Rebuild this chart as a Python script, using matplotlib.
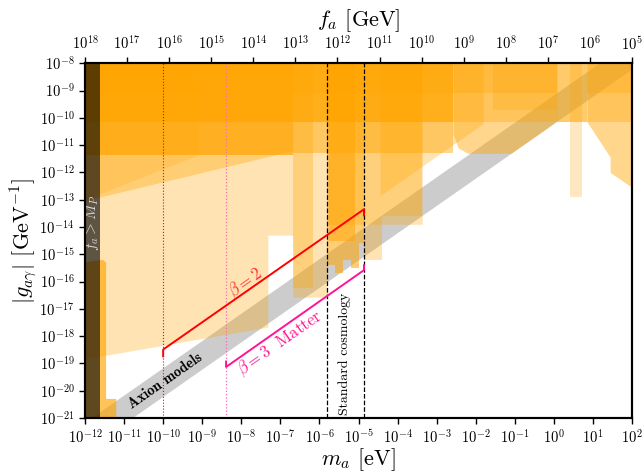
import numpy as np
import matplotlib
matplotlib.use("Agg")
import matplotlib.pyplot as plt
from matplotlib.ticker import FixedLocator, NullLocator, LogFormatterSciNotation

plt.rcParams.update({
    "font.family": "serif",
    "font.serif": ["cmr10"],
    "mathtext.fontset": "cm",
    "axes.formatter.use_mathtext": True,
})

# axis limits
mass_lim = (1e-12, 1e2)        # m_a [eV]
coupling_lim = (1e-21, 1e-8)   # |g_a gamma| [GeV^-1]
fa_lim = (1e18, 1e5)           # f_a [GeV]
planck_mass = 2.4e18           # GeV
fa_times_ma = 5.7e6            # f_a * m_a  [GeV eV]

# exclusion regions: log10 of the lower boundary (mass [eV], coupling [GeV^-1]),
# each filled up to the top of the plot
xray_logm = [-12, 0.08, 0.08, 0.85, 0.85, 2]
xray_logg = [-9.1, -9.1, -8, -8, -9.1, -9.1]
stars_logm = [-12, 2]
stars_logg = [-10.15, -10.15]
helio_logm = [-12, -2.58]
helio_logg = [-10.15, -10.15]
polar_logm = [-12, -6.68, -6.68]
polar_logg = [-11.36, -11.36, -8]
polar2_logm = [-6.68, -2.58, -2.58]
polar2_logg = [-11.3, -11.3, -8]
spectra_logm = [-12, -11.62, -9.06, -6.68, -6.68]
spectra_logg = [-13.05, -12.9, -12.02, -11.2, -8]
spectra2_logm = [-12, -11.28, -9.23, -9.1, -9.1]
spectra2_logg = [-13.0, -12.59, -11.43, -11.36, -8]
cosmo_logm = [-12, -11.62, -9.06, -7.32, -7.32, -6.68, -6.68, -5.8, -5.8, -3.37, -3.37]
cosmo_logg = [-18.8, -18.74, -18.1, -17.67, -14.3, -14.3, -16.57, -16.57, -13.9, -13.9, -8]
strip_logm = [-6.68, -6.68, -6.16, -6.16]
strip_logg = [-8, -16.24, -16.24, -8]
halo_logm = [-5.8, -5.8, -5.6, -5.6, -5.4, -5.4, -5.2, -5.2, -5.0, -5.0, -4.86, -4.86]
halo_logg = [-8, -15.4, -15.4, -15.7, -15.7, -15.2, -15.2, -15.5, -15.5, -14.6, -14.6, -8]
halo2_logm = [-5.75, -5.75, -5.1, -5.1]
halo2_logg = [-8, -14.5, -14.5, -8]
cavity_logm = [-4.86, -4.86, -4.4, -4.4, -3.37, -3.37]
cavity_logg = [-8, -15.2, -15.2, -13.6, -13.6, -8]
diag_logm = [-4.45, -4.45, -1.81]
diag_logg = [-8, -12.85, -10.21]
mid_logm = [-2.58, -2.58, -2.45, -2.2, -1.1, -0.2, 0.08, 0.08]
mid_logg = [-8, -10.6, -11.1, -11.3, -11.3, -10.4, -10.1, -8]
wavy_logm = [-1.55, 0.08, 0.08]
wavy_logg = [-9.7, -9.7, -8]
optical_logm = [0.08, 0.08, 0.85, 0.85]
optical_logg = [-8, -10.15, -10.15, -8]
optical2_logm = [0.41, 0.41, 0.72, 0.72]
optical2_logg = [-8, -12.9, -12.9, -8]
xtel_logm = [0.85, 1.44, 1.44, 2]
xtel_logg = [-10.15, -11.44, -12.0, -12.55]
# closed patch at low mass (log10 mass, log10 coupling)
lowm_logm = [-12, -12, -11.55, -11.46, -11.46, -11.2, -11.2]
lowm_logg = [-21, -15.3, -15.2, -15.3, -20.3, -20.3, -21]

regions = [
    (xray_logm, xray_logg, 0.30),
    (stars_logm, stars_logg, 0.35),
    (helio_logm, helio_logg, 0.55),
    (polar_logm, polar_logg, 0.70),
    (polar2_logm, polar2_logg, 0.45),
    (spectra_logm, spectra_logg, 0.35),
    (spectra2_logm, spectra2_logg, 0.20),
    (cosmo_logm, cosmo_logg, 0.30),
    (strip_logm, strip_logg, 0.30),
    (halo_logm, halo_logg, 0.55),
    (halo2_logm, halo2_logg, 0.50),
    (cavity_logm, cavity_logg, 0.30),
    (diag_logm, diag_logg, 0.30),
    (mid_logm, mid_logg, 0.45),
    (wavy_logm, wavy_logg, 0.25),
    (optical_logm, optical_logg, 0.35),
    (optical2_logm, optical2_logg, 0.25),
    (xtel_logm, xtel_logg, 0.45),
]

# QCD axion model band: log10 g = log10 m + offset
band_logm = [-12, 2]
band_offsets = (-10.2, -9.15)

# cosmology segments
beta2_logm = [-10, -10, -4.86, -4.86]
beta2_logg = [-18.74, -18.49, -13.35, -13.57]
beta3_logm = [-8.39, -8.39, -4.86, -4.86]
beta3_logg = [-18.93, -19.13, -15.58, -15.40]
std_cosmo_logm = [-5.80, -4.86]

fig = plt.figure(figsize=(6.44, 4.72), dpi=100)
ax = fig.add_axes([0.132, 0.1144, 0.8494, 0.7515])
ax.set_xscale("log")
ax.set_yscale("log")
ax.set_xlim(*mass_lim)
ax.set_ylim(*coupling_lim)

orange = "#ffa500"
for lm, lg, a in regions:
    m = 10.0 ** np.asarray(lm)
    g = 10.0 ** np.asarray(lg)
    ax.fill_between(m, g, coupling_lim[1], color=orange, alpha=a, lw=0, zorder=2)
ax.fill(10.0 ** np.asarray(lowm_logm), 10.0 ** np.asarray(lowm_logg),
        color=orange, alpha=0.65, lw=0, zorder=2)

bm = 10.0 ** np.asarray(band_logm, dtype=float)
ax.fill_between(bm, bm * 10 ** band_offsets[0], bm * 10 ** band_offsets[1],
                color="#cccccc", lw=0, zorder=1)

# f_a > M_P
m_planck = fa_times_ma / planck_mass
ax.axvspan(mass_lim[0], m_planck, color="black", alpha=0.63, lw=0, zorder=4)
ax.text(10 ** (-11.81), 10 ** (-13.84), r"$f_a > M_P$", rotation=90, color="#d8d8d8",
        fontsize=11, ha="center", va="center", rotation_mode="anchor", zorder=5)

# reheating lines
ax.axvline(10 ** beta2_logm[0], color="red", ls=":", lw=0.8, zorder=3)
ax.axvline(10 ** beta3_logm[0], color="hotpink", ls=":", lw=0.9, zorder=3)
for x in std_cosmo_logm:
    ax.axvline(10 ** x, color="black", ls="--", lw=0.9, zorder=3)

ax.plot(10.0 ** np.asarray(beta2_logm), 10.0 ** np.asarray(beta2_logg), color="red", lw=1.4, zorder=3)
ax.plot(10.0 ** np.asarray(beta3_logm), 10.0 ** np.asarray(beta3_logg), color="deeppink", lw=1.4, zorder=3)

ang = 34.9
ax.text(10 ** (-7.9), 10 ** (-16.06), r"$\beta = 2$", color="#ff3030", rotation=ang, fontsize=12,
        ha="center", va="center", rotation_mode="anchor", zorder=5)
ax.text(10 ** (-7.0), 10 ** (-18.27), r"$\beta = 3$  Matter", color="deeppink", rotation=ang, fontsize=12,
        ha="center", va="center", rotation_mode="anchor", zorder=5)
ax.text(10 ** (-9.95), 10 ** (-19.63), "Axion models", color="black", rotation=ang, fontsize=10.5,
        family="cmb10", ha="center", va="center", rotation_mode="anchor", zorder=5)
ax.text(10 ** (-5.35), 10 ** (-18.66), "Standard cosmology", color="black", rotation=90, fontsize=10,
        ha="center", va="center", rotation_mode="anchor", zorder=5)

ax.xaxis.set_major_locator(FixedLocator(10.0 ** np.arange(-12, 3)))
ax.xaxis.set_minor_locator(NullLocator())
ax.yaxis.set_major_locator(FixedLocator(10.0 ** np.arange(-21, -7)))
ax.yaxis.set_minor_locator(NullLocator())
ax.xaxis.set_major_formatter(LogFormatterSciNotation())
ax.yaxis.set_major_formatter(LogFormatterSciNotation())
ax.tick_params(which="major", direction="out", length=4, width=1, labelsize=10.5, top=False, right=False)
ax.set_xlabel(r"$m_a$ [eV]", fontsize=16, labelpad=0)
ax.set_ylabel(r"$|g_{a\gamma}|$ [GeV$^{-1}$]", fontsize=16, labelpad=0)

ax2 = ax.twiny()
ax2.set_xscale("log")
ax2.set_xlim(*fa_lim)
ax2.xaxis.set_major_locator(FixedLocator(10.0 ** np.arange(5, 19)))
ax2.xaxis.set_minor_locator(NullLocator())
ax2.xaxis.set_major_formatter(LogFormatterSciNotation())
ax2.tick_params(which="major", direction="out", length=4, width=1, labelsize=10.5)
ax2.set_xlabel(r"$f_a$ [GeV]", fontsize=16, labelpad=6)

for a_ in (ax, ax2):
    for s in a_.spines.values():
        s.set_linewidth(1.5)

fig.savefig("out.png", dpi=100)
